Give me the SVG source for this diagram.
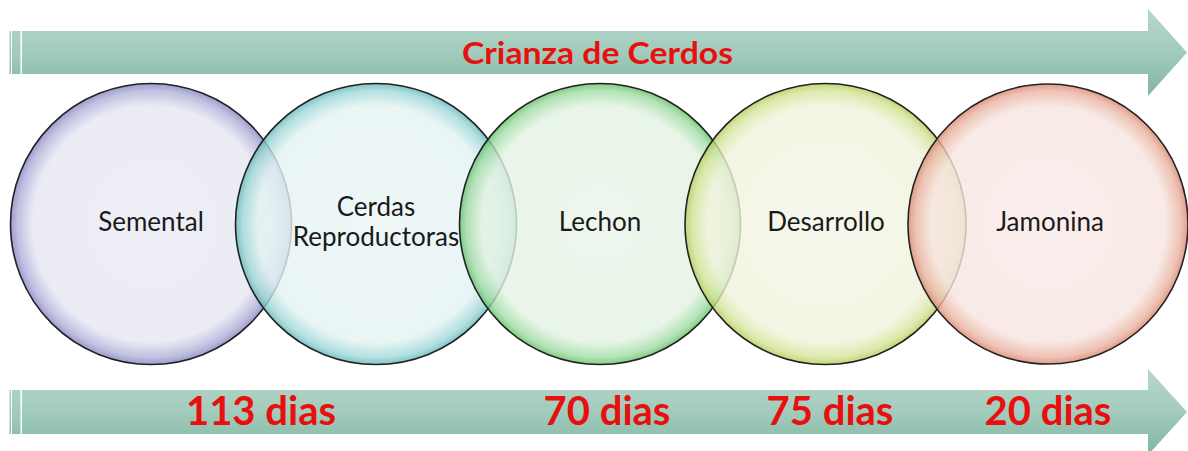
<svg xmlns="http://www.w3.org/2000/svg" width="1188" height="451" viewBox="0 0 1188 451">
<defs>
<linearGradient id="barTop" x1="0" y1="9" x2="0" y2="96" gradientUnits="userSpaceOnUse">
<stop offset="0" stop-color="#b6d8cb"/><stop offset="0.5" stop-color="#a2cbbb"/><stop offset="1" stop-color="#7fb6a2"/>
</linearGradient>
<linearGradient id="barBot" x1="0" y1="369" x2="0" y2="455" gradientUnits="userSpaceOnUse">
<stop offset="0" stop-color="#b6d8cb"/><stop offset="0.5" stop-color="#a2cbbb"/><stop offset="1" stop-color="#7fb6a2"/>
</linearGradient>
<radialGradient id="gPur"><stop offset="0" stop-color="#eaeaf4"/><stop offset="0.84" stop-color="#e6e6f2"/><stop offset="0.95" stop-color="#b0b0da"/><stop offset="1" stop-color="#8484c0"/></radialGradient>
<radialGradient id="gTeal"><stop offset="0" stop-color="#ebf5f5"/><stop offset="0.84" stop-color="#e4f2f2"/><stop offset="0.95" stop-color="#a0d8d8"/><stop offset="1" stop-color="#64b8b8"/></radialGradient>
<radialGradient id="gGrn"><stop offset="0" stop-color="#e9f4e9"/><stop offset="0.84" stop-color="#e2f2e2"/><stop offset="0.95" stop-color="#a0dca4"/><stop offset="1" stop-color="#64c068"/></radialGradient>
<radialGradient id="gYel"><stop offset="0" stop-color="#f4f5e8"/><stop offset="0.84" stop-color="#f0f3dc"/><stop offset="0.95" stop-color="#d4e498"/><stop offset="1" stop-color="#b2cc58"/></radialGradient>
<radialGradient id="gRed"><stop offset="0" stop-color="#f9eae8"/><stop offset="0.84" stop-color="#f6e4e0"/><stop offset="0.95" stop-color="#eab4a2"/><stop offset="1" stop-color="#d8866c"/></radialGradient>
</defs>
<style>
.c{stroke:#222;stroke-width:1.6;fill-opacity:0.8}
.lbl{font-family:Lato,"Open Sans","Liberation Sans",sans-serif;font-size:26px;fill:#1a1a1a;text-anchor:middle}
.red{font-family:Lato,"Open Sans","Liberation Sans",sans-serif;font-weight:bold;fill:#e80f0f;text-anchor:middle}
</style>
<g id="arrows">
<g id="arrow-top" fill="url(#barTop)">
<rect x="9.5" y="31" width="1.5" height="43"/>
<rect x="12" y="31" width="8.5" height="43"/>
<path d="M22 31 H1148 V9 L1187 52.5 L1148 96 V74 H22 Z"/>
</g>
<g id="arrow-bottom" fill="url(#barBot)">
<rect x="9.5" y="390" width="1.5" height="44"/>
<rect x="12" y="390" width="8.5" height="44"/>
<path d="M22 390 H1148 V369 L1187 412 L1148 455 V434 H22 Z"/>
</g>
</g>
<g id="node-sementel"><circle class="c" cx="151" cy="224" r="140.5" fill="url(#gPur)"/><text class="lbl" x="151" y="231">Semental</text></g>
<g id="node-cerdas"><circle class="c" cx="376" cy="224" r="140.5" fill="url(#gTeal)"/><text class="lbl" x="376" y="216">Cerdas</text><text class="lbl" x="376" y="246">Reproductoras</text></g>
<g id="node-lechon"><circle class="c" cx="600" cy="224" r="140.5" fill="url(#gGrn)"/><text class="lbl" x="600" y="231">Lechon</text></g>
<g id="node-desarrollo"><circle class="c" cx="825.5" cy="224" r="140.5" fill="url(#gYel)"/><text class="lbl" x="826" y="231">Desarrollo</text></g>
<g id="node-jamonina"><circle class="c" cx="1048" cy="224" r="140" fill="url(#gRed)"/><text class="lbl" x="1050" y="231">Jamonina</text></g>
<g id="labels">
<text class="red" x="597.5" y="64" font-size="31" textLength="271" lengthAdjust="spacingAndGlyphs">Crianza de Cerdos</text>
<text class="red" x="261" y="425" font-size="40">113 dias</text>
<text class="red" x="607" y="425" font-size="40">70 dias</text>
<text class="red" x="830" y="425" font-size="40">75 dias</text>
<text class="red" x="1048" y="425" font-size="40">20 dias</text>
</g>
</svg>
